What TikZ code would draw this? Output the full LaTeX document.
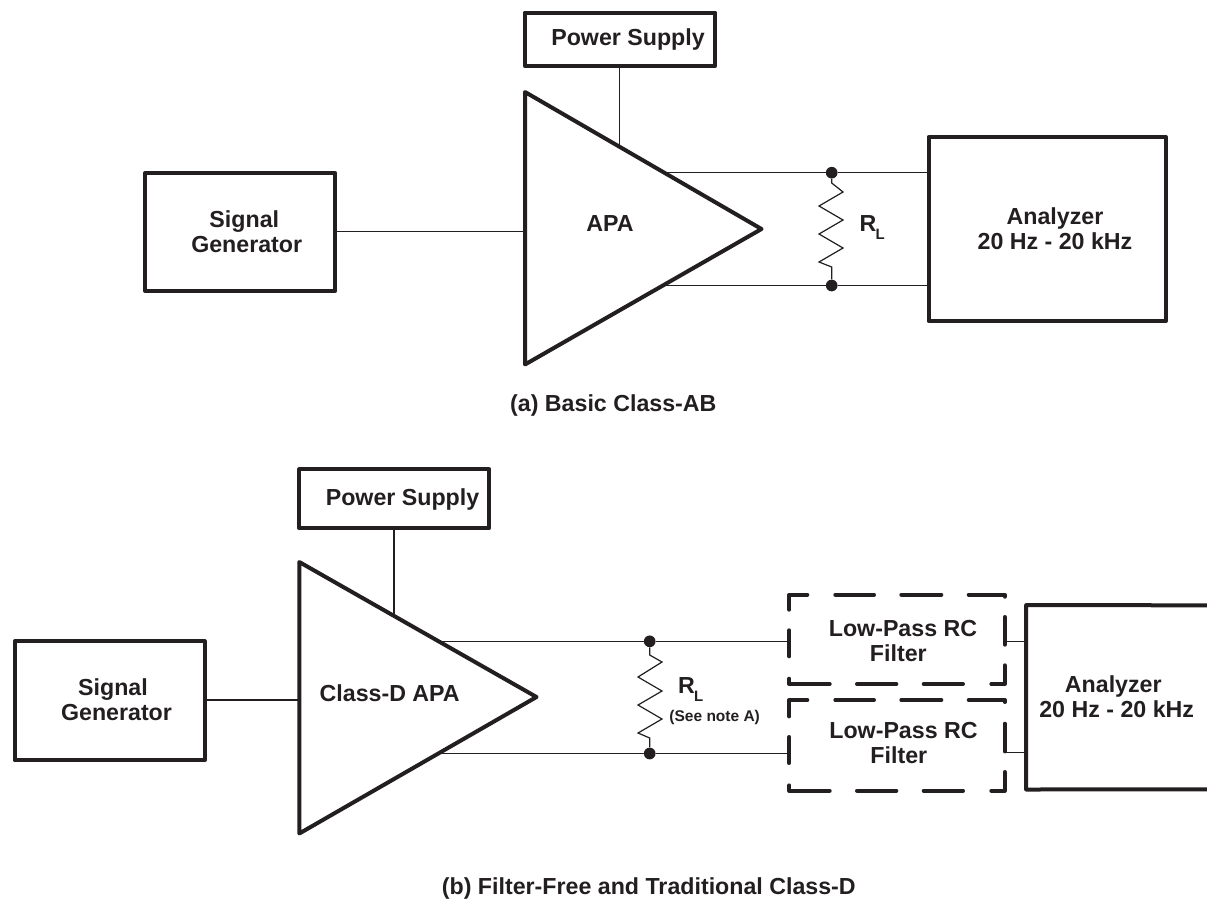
\documentclass[tikz,border=0pt]{standalone}
\usepackage{fontspec}
\setmainfont{Liberation Sans}
\definecolor{ink}{HTML}{231F20}
\begin{document}
\begin{tikzpicture}[x=1pt,y=-1pt,
  thickbox/.style={draw=ink,line width=4pt,line join=round,inner sep=0pt},
  plainbox/.style={inner sep=0pt},
  lbl/.style={inner sep=0pt,font=\fontsize{23.2}{25}\selectfont\bfseries,text=ink,align=center},
  subl/.style={inner sep=0pt,font=\fontsize{15}{16}\selectfont\bfseries,text=ink,anchor=base west},
  capt/.style={inner sep=0pt,font=\fontsize{23.2}{25}\selectfont\bfseries,text=ink,anchor=base west},
  smalltxt/.style={inner sep=0pt,font=\fontsize{15.5}{16}\selectfont\bfseries,text=ink,anchor=base},
  wire/.style={draw=ink,line width=1.2pt},
  heavy/.style={draw=ink,line width=4pt,line join=round},
  dashseg/.style={draw=ink,line width=4pt,line cap=round,line join=round},
  joint/.style={circle,fill=ink,inner sep=0pt,minimum size=11.7pt}]
\useasboundingbox (0,0) rectangle (1207,898);
% ---- (a)
\node[thickbox,minimum width=190.6pt,minimum height=53pt] (psa) at (620,39.2) {};
\node[lbl,anchor=base] (psat) at (628,45) {Power Supply};
\node[thickbox,minimum width=190pt,minimum height=118pt] (sga) at (240.3,232) {};
\node[lbl] (sgat) at (246.7,231.5) {\hspace*{-4.8pt}Signal\\Generator};
\node[thickbox,minimum width=237.5pt,minimum height=184pt] (ana) at (1047.3,229) {};
\node[lbl] (anat) at (1055,229) {Analyzer\\20 Hz - 20 kHz};
\coordinate (ta1) at (525,92); \coordinate (ta2) at (761.5,229); \coordinate (ta3) at (525,364.5);
\draw[heavy] (ta1) -- (ta2) -- (ta3) -- cycle;
\node[lbl,anchor=base] (apa) at (610,231.7) {APA};
\coordinate (tain) at (525,231.7); \coordinate (tapwr) at (619.7,147);
\coordinate (taup) at (664.3,172.7); \coordinate (talo) at (662.9,285.5);
\node[joint] (ja1) at (831.7,172.7) {};
\node[joint] (ja2) at (831.7,285.5) {};
\draw[wire] (psa.south -| tapwr) -- (tapwr);
\draw[wire] (sga.east |- tain) -- (tain);
\draw[wire] (taup) -- (ja1) -- (ana.west |- ja1);
\draw[wire] (talo) -- (ja2) -- (ana.west |- ja2);
\draw[wire] (ja1) -- (831.7,183) -- (843,192) -- (819,206) -- (843,220) -- (819,234) -- (843,248) -- (819,262) -- (831.7,267) -- (ja2);
\node[lbl,anchor=base west] (rla) at (859.5,231.7) {R};
\node[subl] (rlas) at (875.5,239.5) {L};
\node[capt] (capa) at (510,411.7) {(a) Basic Class-AB};
% ---- (b)
\node[thickbox,minimum width=189.7pt,minimum height=59pt] (psb) at (394.15,498.8) {};
\node[lbl,anchor=base] (psbt) at (402.5,505) {Power Supply};
\node[thickbox,minimum width=190pt,minimum height=119pt] (sgb) at (109.7,700.8) {};
\node[lbl] (sgbt) at (116.5,700) {\hspace*{-7pt}Signal\\Generator};
\node[plainbox,minimum width=240pt,minimum height=184pt] (anb) at (1146.3,697.3) {};
\node[lbl] (anbt) at (1116.7,697) {\hspace*{-6.8pt}Analyzer\\20 Hz - 20 kHz};
\draw[heavy] (1209,605.3) -- (anb.north west) -- (anb.south west) -- (1209,789.3);
\coordinate (tb1) at (299.3,562); \coordinate (tb2) at (536.5,697); \coordinate (tb3) at (299.3,833.5);
\draw[heavy] (tb1) -- (tb2) -- (tb3) -- cycle;
\node[lbl,anchor=base] (apb) at (389.7,701) {Class-D APA};
\coordinate (tbin) at (299.3,700); \coordinate (tbpwr) at (394,616);
\coordinate (tbup) at (438,641.3); \coordinate (tblo) at (438.3,753.5);
\node[plainbox,minimum width=215.4pt,minimum height=90pt] (fa) at (897,639.5) {};
\node[plainbox,minimum width=215.4pt,minimum height=90pt] (fb) at (897,745.5) {};
\node[lbl] (fat) at (903,641) {Low-Pass RC\\\hspace*{-9.4pt}Filter};
\node[lbl] (fbt) at (903.5,742.5) {Low-Pass RC\\\hspace*{-9.4pt}Filter};
\foreach \dy/\ty in {0/594.7,106.7/593.3}{
\begin{scope}[shift={(0,\dy)}]
\draw[dashseg] (789.3,609.7) -- (789.3,\ty) -- (807.3,\ty);
\draw[dashseg] (835.3,\ty) -- (874,\ty);
\draw[dashseg] (901.3,\ty) -- (941.3,\ty);
\draw[dashseg] (968.7,\ty) -- (1004.7,\ty) -- (1004.7,\ty+2);
\draw[dashseg] (1004.7,617) -- (1004.7,644.7);
\draw[dashseg] (1004.7,665.3) -- (1004.7,684) -- (991.3,684);
\draw[dashseg] (963,684) -- (923.7,684);
\draw[dashseg] (896.3,684) -- (857,684);
\draw[dashseg] (829.7,684) -- (789.3,684) -- (789.3,678.7);
\draw[dashseg] (789.3,630.3) -- (789.3,656.3);
\end{scope}}
\node[joint] (jb1) at (649.7,641.3) {};
\node[joint] (jb2) at (649.7,753.5) {};
\draw[wire] (psb.south -| tbpwr) -- (tbpwr);
\draw[wire] (sgb.east |- tbin) -- (tbin);
\draw[wire] (tbup) -- (jb1) -- (fa.west |- jb1);
\draw[wire] (tblo) -- (jb2) -- (fb.west |- jb2);
\coordinate (faout) at (1004.7,641.7); \coordinate (fbout) at (1004.7,752.7);
\draw[wire] (faout) -- (anb.west |- faout);
\draw[wire] (fbout) -- (anb.west |- fbout);
\draw[wire] (jb1) -- (649.7,655) -- (662,662) -- (638,677) -- (662,691) -- (638,705) -- (662,719) -- (638,733) -- (649.7,738) -- (jb2);
\node[lbl,anchor=base west] (rlb) at (678,693.3) {R};
\node[subl] (rlbs) at (694,701.7) {L};
\node[smalltxt] (note) at (714.7,721) {(See note A)};
\node[capt] (capb) at (441.7,894) {(b) Filter-Free and Traditional Class-D};
\end{tikzpicture}
\end{document}
